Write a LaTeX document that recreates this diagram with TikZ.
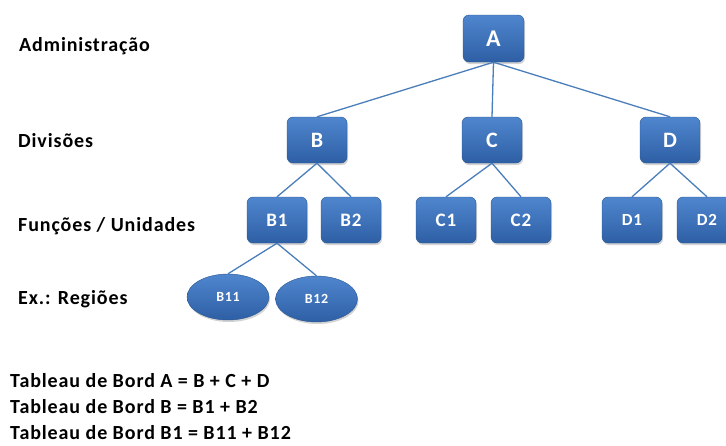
\documentclass[tikz,border=0pt]{standalone}
\usepackage{fontspec}
\setmainfont{Carlito}[LetterSpace=4.5]
\usetikzlibrary{shapes.geometric,shadows}
\definecolor{boxtop}{HTML}{4F86CE}
\definecolor{boxbot}{HTML}{2E5FA5}
\definecolor{linec}{HTML}{4A7EBB}
\begin{document}
\begin{tikzpicture}[x=1pt,y=-1pt,
  box/.style={rectangle,rounded corners=6pt,top color=boxtop,bottom color=boxbot,draw=boxbot!90!black,line width=0.4pt,
    minimum width=60pt,minimum height=46pt,inner sep=0pt,text=white,font=\bfseries\fontsize{19}{21}\selectfont,
    drop shadow={shadow xshift=1pt,shadow yshift=-2pt,opacity=0.35}},
  oval/.style={ellipse,top color=boxtop,bottom color=boxbot,draw=boxbot!90!black,line width=0.4pt,
    minimum width=82pt,minimum height=46pt,inner sep=0pt,text=white,font=\bfseries\fontsize{14}{16}\selectfont,
    drop shadow={shadow xshift=1pt,shadow yshift=-2pt,opacity=0.35}},
  conn/.style={draw=linec,line width=1.3pt},
  lbl/.style={anchor=base west,font=\bfseries\fontsize{20}{23}\selectfont,inner sep=0pt}]
\useasboundingbox (0,0) rectangle (726,445);
\node[box,minimum width=61pt,minimum height=47pt,font=\bfseries\fontsize{24}{26}\selectfont] (A) at (493.5,38.5) {A};
\node[box,font=\bfseries\fontsize{22}{24}\selectfont] (B) at (317,140) {B};
\node[box,font=\bfseries\fontsize{22}{24}\selectfont] (C) at (492,140) {C};
\node[box,font=\bfseries\fontsize{22}{24}\selectfont] (D) at (670,140) {D};
\node[box] (B1) at (277,220) {B1};
\node[box] (B2) at (351,220) {B2};
\node[box] (C1) at (446,220) {C1};
\node[box] (C2) at (521,220) {C2};
\node[box,font=\bfseries\fontsize{17}{19}\selectfont] (D1) at (632,220) {D1};
\node[box,font=\bfseries\fontsize{17}{19}\selectfont] (D2) at (707,220) {D2};
\node[oval] (B11) at (228,297) {B11};
\node[oval] (B12) at (316.5,299) {B12};
\draw[conn] (A.south) -- (B.north);
\draw[conn] (A.south) -- (C.north);
\draw[conn] (A.south) -- (D.north);
\draw[conn] (B.south) -- (B1.north);
\draw[conn] (B.south) -- (B2.north);
\draw[conn] (C.south) -- (C1.north);
\draw[conn] (C.south) -- (C2.north);
\draw[conn] (D.south) -- (D1.north);
\draw[conn] (D.south) -- (D2.north);
\draw[conn] (B1.south) -- (B11.north);
\draw[conn] (B1.south) -- (B12.north);
\node[lbl] (l1) at (19,51) {Administração};
\node[lbl] (l2) at (18,147.5) {Divisões};
\node[lbl] (l3) at (18,231) {Funções / Unidades};
\node[lbl] (l4) at (18,304.5) {Ex.: Regiões};
\node[lbl] (t1) at (10,387.5) {Tableau de Bord A = B + C + D};
\node[lbl] (t2) at (10,413.5) {Tableau de Bord B = B1 + B2};
\node[lbl] (t3) at (10,439.5) {Tableau de Bord B1 = B11 + B12};
\end{tikzpicture}
\end{document}
